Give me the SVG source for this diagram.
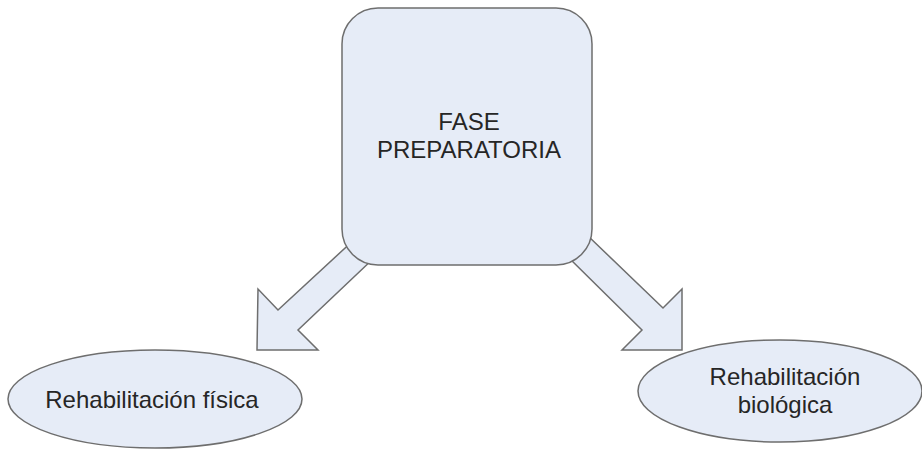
<svg xmlns="http://www.w3.org/2000/svg" width="922" height="451" viewBox="0 0 922 451">
  <style>
    .shape { fill: #e6ecf7; stroke: #6e6e6e; stroke-width: 1.5; stroke-linejoin: miter; }
    .label { font-family: "Liberation Sans", Arial, sans-serif; font-size: 24px; fill: #262626; text-anchor: middle; }
  </style>
  <rect width="922" height="451" fill="#ffffff"/>

  <!-- block arrows, drawn under the phase box -->
  <g id="connectors">
    <path class="shape" d="M 357 237 L 375 257 L 298 330 L 318 350 L 257 350 L 258 289 L 278 310 Z"/>
    <path class="shape" d="M 587 235 L 663 308 L 682 289 L 682 350 L 622 350 L 642 330 L 567 256 Z"/>
  </g>

  <g id="fase-preparatoria">
    <rect class="shape" x="342" y="8" width="250" height="257" rx="36" ry="36"/>
    <text class="label" x="469" y="130">FASE</text>
    <text class="label" x="469" y="158">PREPARATORIA</text>
  </g>

  <g id="rehabilitacion-fisica">
    <ellipse class="shape" cx="155" cy="399" rx="147" ry="49"/>
    <text class="label" x="152" y="408">Rehabilitación física</text>
  </g>

  <g id="rehabilitacion-biologica">
    <ellipse class="shape" cx="780" cy="391" rx="142" ry="51"/>
    <text class="label" x="785" y="385">Rehabilitación</text>
    <text class="label" x="785" y="413">biológica</text>
  </g>
</svg>
